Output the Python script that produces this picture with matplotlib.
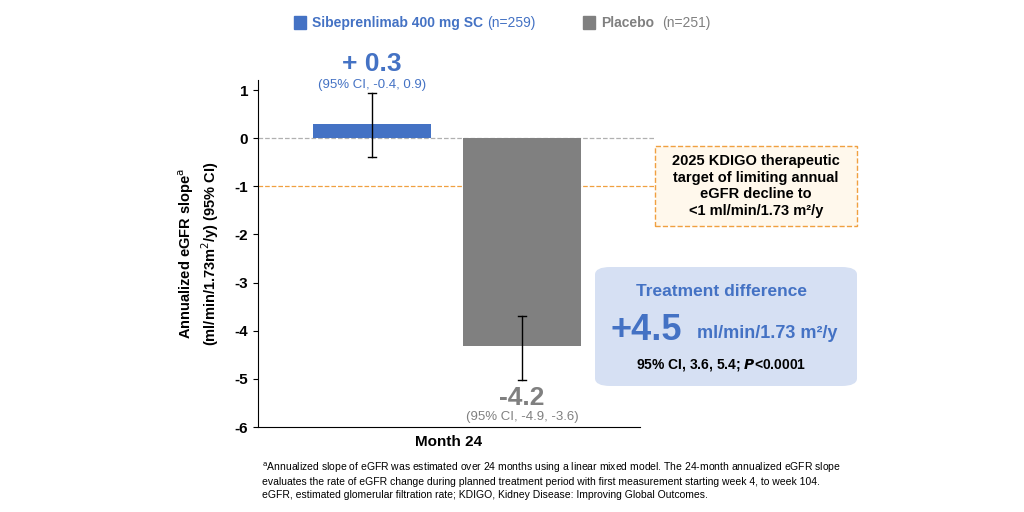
import matplotlib.pyplot as plt
from matplotlib.patches import FancyBboxPatch
import matplotlib.transforms as mtransforms

plt.rcParams['font.family'] = ['Liberation Sans', 'DejaVu Sans']

groups = ['Sibeprenlimab 400 mg SC', 'Placebo']
ns = [259, 251]
slopes = [0.3, -4.32]
labels = ['+ 0.3', '-4.2']
ci_low = [-0.4, -5.03]
ci_high = [0.94, -3.7]
ci_text = ['(95% CI, -0.4, 0.9)', '(95% CI, -4.9, -3.6)']
colors = ['#4472c4', '#808080']
yticks = [1, 0, -1, -2, -3, -4, -5, -6]

fig = plt.figure(figsize=(10.24, 5.12), dpi=100)
ax = fig.add_axes([0.252, 0.166, 0.373, 0.677])
xs = [0.298, 0.691]
for x, s, lo, hi, c in zip(xs, slopes, ci_low, ci_high, colors):
    ax.bar(x, s, width=0.31, color=c, zorder=2)
    ax.plot([x, x], [lo, hi], color='black', lw=1, zorder=3)
    for yy in (lo, hi):
        ax.plot([x - 0.01, x + 0.01], [yy, yy], color='black', lw=1, zorder=3)

ax.set_xlim(0, 1)
ax.set_ylim(-6, 1.2)
ax.set_yticks(yticks)
ax.set_yticklabels([str(t) for t in yticks], fontsize=11, fontweight='bold')
ax.set_xticks([0.5])
ax.set_xticklabels(['Month 24'], fontsize=11, fontweight='bold')
ax.tick_params(axis='x', length=0, pad=6)
for sp in ['top', 'right']:
    ax.spines[sp].set_visible(False)
ax.set_ylabel('Annualized eGFR slope$^{\\mathrm{a}}$\n(ml/min/1.73m$^{2}$/y) (95% CI)',
              fontsize=10.5, fontweight='bold', labelpad=10)

trans = mtransforms.blended_transform_factory(ax.transAxes, ax.transData)
ax.plot([0, 1.04], [0, 0], color='#b0b0b0', ls='--', lw=0.9, transform=trans, clip_on=False, zorder=1)
ax.plot([0, 1.04], [-1, -1], color='#f0a040', ls='--', lw=0.9, transform=trans, clip_on=False, zorder=1)

ax.text(xs[0], 1.55, labels[0], ha='center', va='center', fontsize=19, fontweight='bold',
        color=colors[0], clip_on=False)
ax.text(xs[0], 1.1, ci_text[0], ha='center', va='center', fontsize=9.5, color=colors[0], clip_on=False)
ax.text(xs[1], -5.4, labels[1], ha='center', va='center', fontsize=19, fontweight='bold', color=colors[1])
ax.text(xs[1], -5.8, ci_text[1], ha='center', va='center', fontsize=9.5, color=colors[1])

# legend
fig.patches.append(plt.Rectangle((294 / 1024, 1 - 29 / 512), 12 / 1024, 13 / 512,
                                 color=colors[0], transform=fig.transFigure))
fig.text(312 / 1024, 1 - 23 / 512, groups[0], fontsize=10, fontweight='bold', color=colors[0], va='center')
fig.text(487 / 1024, 1 - 23 / 512, f'(n={ns[0]})', fontsize=10, color=colors[0], va='center')
fig.patches.append(plt.Rectangle((583 / 1024, 1 - 29 / 512), 12 / 1024, 13 / 512,
                                 color=colors[1], transform=fig.transFigure))
fig.text(601 / 1024, 1 - 23 / 512, groups[1], fontsize=10, fontweight='bold', color=colors[1], va='center')
fig.text(662 / 1024, 1 - 23 / 512, f'(n={ns[1]})', fontsize=10, color=colors[1], va='center')

# KDIGO box
fig.patches.append(FancyBboxPatch((655 / 1024, 1 - 226 / 512), 202 / 1024, 80 / 512,
                                  boxstyle='square,pad=0', fc='#fff8ec', ec='#f0a040', ls='--', lw=1,
                                  transform=fig.transFigure))
fig.text(756 / 1024, 1 - 186 / 512,
         '2025 KDIGO therapeutic\ntarget of limiting annual\neGFR decline to\n<1 ml/min/1.73 m²/y',
         ha='center', va='center', fontsize=10.5, fontweight='bold', linespacing=1.25)

# treatment difference box
fig.patches.append(FancyBboxPatch((595 / 1024, 1 - 386 / 512), 262 / 1024, 119 / 512,
                                  boxstyle='round,pad=0,rounding_size=0.015', fc='#d6e0f3', ec='none',
                                  transform=fig.transFigure))
fig.text(721 / 1024, 1 - 292 / 512, 'Treatment difference', ha='center', va='center',
         fontsize=12.5, fontweight='bold', color=colors[0])
fig.text(610 / 1024, 1 - 330 / 512, '+4.5', ha='left', va='center', fontsize=26, fontweight='bold', color=colors[0])
fig.text(697 / 1024, 1 - 333 / 512, 'ml/min/1.73 m²/y', ha='left', va='center', fontsize=13,
         fontweight='bold', color=colors[0])
fig.text(721 / 1024, 1 - 365 / 512, '95% CI, 3.6, 5.4; $\\bfit{P}$<0.0001', ha='center', va='center',
         fontsize=10, fontweight='bold')

fig.text(262 / 1024, 1 - 480 / 512,
         '$^{\\mathrm{a}}$Annualized slope of eGFR was estimated over 24 months using a linear mixed model. '
         'The 24-month annualized eGFR slope\nevaluates the rate of eGFR change during planned treatment period '
         'with first measurement starting week 4, to week 104.\neGFR, estimated glomerular filtration rate; '
         'KDIGO, Kidney Disease: Improving Global Outcomes.',
         ha='left', va='center', fontsize=7.5, linespacing=1.3)

fig.savefig('out.png', dpi=100)
